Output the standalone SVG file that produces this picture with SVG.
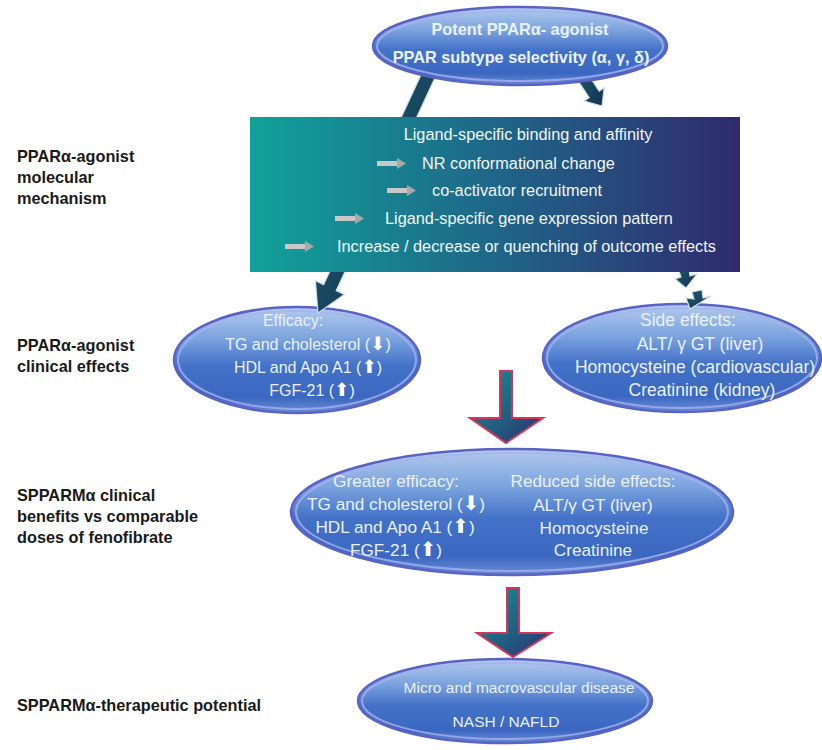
<svg xmlns="http://www.w3.org/2000/svg" width="822" height="750" viewBox="0 0 822 750">
<defs>
<linearGradient id="eg" x1="0" y1="0" x2="0" y2="1">
<stop offset="0" stop-color="#b3cbee"/>
<stop offset="0.3" stop-color="#7ba3de"/>
<stop offset="0.55" stop-color="#4472c8"/>
<stop offset="0.85" stop-color="#3b67c0"/>
<stop offset="1" stop-color="#6a8cd8"/>
</linearGradient>
<linearGradient id="boxg" x1="0" y1="0" x2="1" y2="0">
<stop offset="0" stop-color="#10a29a"/>
<stop offset="0.5" stop-color="#1f6688"/>
<stop offset="1" stop-color="#302a6e"/>
</linearGradient>
<linearGradient id="darkg" x1="0" y1="0" x2="1" y2="1">
<stop offset="0" stop-color="#1d5d70"/>
<stop offset="1" stop-color="#15304f"/>
</linearGradient>
<linearGradient id="redg" x1="0" y1="0" x2="1" y2="1">
<stop offset="0" stop-color="#1a9090"/>
<stop offset="0.6" stop-color="#225a80"/>
<stop offset="1" stop-color="#2c2c6c"/>
</linearGradient>
<style>
.ell{fill:url(#eg);stroke:#5a62c4;stroke-width:2.5}
.rim{fill:none;stroke:#a8b2ee;stroke-width:2;opacity:0.8}
.lbl{font-family:"Liberation Sans",Arial,sans-serif;font-weight:bold;font-size:16.3px;fill:#1a1a1a}
.bx{font-family:"Liberation Sans",Arial,sans-serif;font-size:16.3px;fill:#f2f6f6}
.et{font-family:"Liberation Sans",Arial,sans-serif;fill:#eaf1fa;text-anchor:middle}
.ic{font-family:"DejaVu Sans",sans-serif;fill:#ffffff;font-size:1.15em}
.bar{fill:#c8c8c8}
.hd{fill:#a8a8a8}
.dark{fill:url(#darkg);stroke:#cfdde6;stroke-width:1.2}
.red{fill:url(#redg);stroke:#d4345a;stroke-width:2}
</style>
</defs>
<rect width="822" height="750" fill="#ffffff"/>

<g id="labels">
<text class="lbl" x="17" y="162">PPARα-agonist</text>
<text class="lbl" x="17" y="183">molecular</text>
<text class="lbl" x="17" y="204">mechanism</text>
<text class="lbl" x="17" y="351">PPARα-agonist</text>
<text class="lbl" x="17" y="372">clinical effects</text>
<text class="lbl" x="17" y="501">SPPARMα clinical</text>
<text class="lbl" x="17" y="522">benefits vs comparable</text>
<text class="lbl" x="17" y="543">doses of fenofibrate</text>
<text class="lbl" x="17" y="711">SPPARMα-therapeutic potential</text>
</g>

<g id="efficacy">
<ellipse class="ell" cx="297" cy="360" rx="123" ry="53"/>
<ellipse class="rim" cx="297" cy="360" rx="119" ry="49"/>
<text class="et" font-size="16" x="293" y="326">Efficacy:</text>
<text class="et" font-size="16" x="308" y="350">TG and cholesterol (<tspan class="ic">⬇</tspan>)</text>
<text class="et" font-size="16" x="308" y="373">HDL and Apo A1 (<tspan class="ic">⬆</tspan>)</text>
<text class="et" font-size="16" x="312" y="396">FGF-21 (<tspan class="ic">⬆</tspan>)</text>
</g>

<g id="side-effects">
<ellipse class="ell" cx="682" cy="358" rx="139" ry="54"/>
<ellipse class="rim" cx="682" cy="358" rx="135" ry="50"/>
<text class="et" font-size="17.5" x="688" y="326">Side effects:</text>
<text class="et" font-size="17.5" x="700" y="350">ALT/ γ GT (liver)</text>
<text class="et" font-size="17.5" x="695" y="373">Homocysteine (cardiovascular)</text>
<text class="et" font-size="17.5" x="702" y="396">Creatinine (kidney)</text>
</g>

<g id="connectors">
<polygon class="dark" points="436.3,75 336.2,290.6 344.4,294.4 318,313 315.4,280.8 323.6,284.6 423.7,69"/>
<polygon class="dark" points="583,66.7 599.2,91.1 604.2,87.8 602,106 584.2,101 589.2,97.7 573,73.3"/>
<polygon class="dark" points="676,262 688,262 690,276 697,274 686,288 675,279 681,277"/>
<polygon class="dark" points="692,292 702,290 703,298 711,296 690,309 686,298 694,299"/>
<polygon class="red" points="500,371 512,371 512,418 543,418 506,443 470,418 500,418"/>
<polygon class="red" points="507,588 519,588 519,633 551,633 513,657 477,633 507,633"/>
</g>

<g id="top">
<ellipse class="ell" cx="520" cy="46" rx="147" ry="39"/>
<ellipse class="rim" cx="520" cy="46" rx="143" ry="35"/>
<text class="et" font-size="16.3" font-weight="bold" fill="#ffffff" x="520" y="35">Potent PPARα- agonist</text>
<text class="et" font-size="16.3" font-weight="bold" fill="#ffffff" x="521" y="63">PPAR subtype selectivity (α, γ, δ)</text>
</g>

<g id="mechanism">
<rect x="250" y="117" width="490" height="155" fill="url(#boxg)"/>
<text class="bx" x="528" y="140" text-anchor="middle">Ligand-specific binding and affinity</text>
<rect class="bar" x="377" y="161" width="20" height="5"/><polygon class="hd" points="397,158 406,163.5 397,169"/>
<text class="bx" x="422" y="169">NR conformational change</text>
<rect class="bar" x="387" y="188" width="20" height="5"/><polygon class="hd" points="407,185 416,190.5 407,196"/>
<text class="bx" x="432" y="196">co-activator recruitment</text>
<rect class="bar" x="335" y="216" width="20" height="5"/><polygon class="hd" points="355,213 364,218.5 355,224"/>
<text class="bx" x="385" y="224">Ligand-specific gene expression pattern</text>
<rect class="bar" x="285" y="244" width="20" height="5"/><polygon class="hd" points="305,241 314,246.5 305,252"/>
<text class="bx" x="337" y="252">Increase / decrease or quenching of outcome effects</text>
</g>

<g id="spparm">
<ellipse class="ell" cx="512" cy="512" rx="221" ry="63"/>
<ellipse class="rim" cx="512" cy="512" rx="216" ry="59"/>
<text class="et" font-size="17.2" x="396" y="487">Greater efficacy:</text>
<text class="et" font-size="17.2" x="396" y="510">TG and cholesterol (<tspan class="ic">⬇</tspan>)</text>
<text class="et" font-size="17.2" x="395" y="533">HDL and Apo A1 (<tspan class="ic">⬆</tspan>)</text>
<text class="et" font-size="17.2" x="396" y="556">FGF-21 (<tspan class="ic">⬆</tspan>)</text>
<text class="et" font-size="17.2" x="593" y="487">Reduced side effects:</text>
<text class="et" font-size="17.2" x="593" y="511">ALT/γ GT (liver)</text>
<text class="et" font-size="17.2" x="594" y="534">Homocysteine</text>
<text class="et" font-size="17.2" x="593" y="556">Creatinine</text>
</g>

<g id="potential">
<ellipse class="ell" cx="505" cy="701" rx="147" ry="42"/>
<ellipse class="rim" cx="505" cy="701" rx="143" ry="38"/>
<text class="et" font-size="15.5" x="519" y="693">Micro and macrovascular disease</text>
<text class="et" font-size="15.5" x="506" y="727">NASH / NAFLD</text>
</g>
</svg>
